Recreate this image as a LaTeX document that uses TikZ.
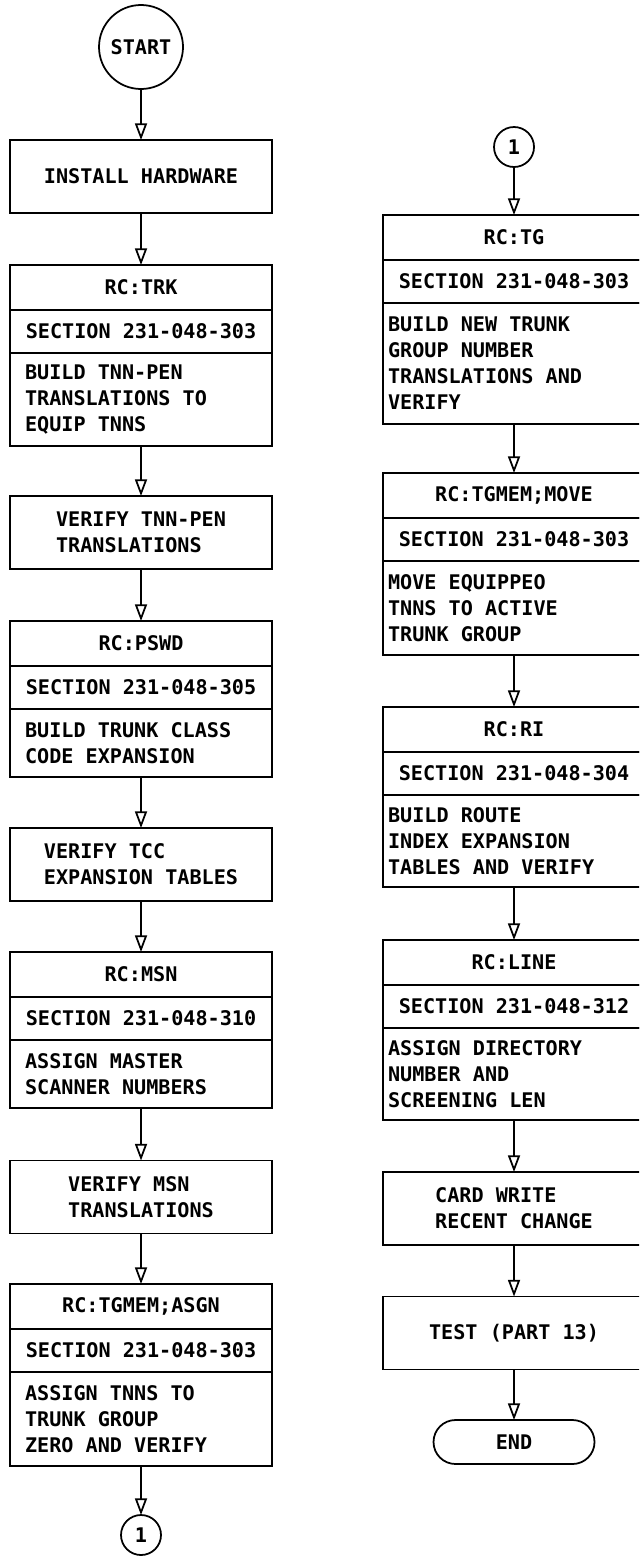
\documentclass[tikz,border=0pt]{standalone}
\usepackage{fontspec}
\setmonofont{DejaVu Sans Mono}
\usetikzlibrary{arrows.meta,positioning}

\tikzset{
  every node/.style={font=\ttfamily\bfseries\fontsize{17.2}{22.2}\selectfont},
  box/.style={draw, line width=1.5pt, outer sep=0pt, inner sep=0pt, minimum width=7.86cm},
  single/.style={box, minimum height=2.19cm, align=left},
  head/.style={box, minimum height=1.35cm},
  sect/.style={box, minimum height=1.29cm},
  body/.style={box, minimum height=#1, align=left, inner xsep=0.45cm, text width=6.96cm,
    execute at begin node={\spaceskip=0.602em\relax}},
  wide/.style={inner xsep=0.15cm, text width=7.56cm},
  conn/.style={draw, circle, line width=1.5pt, inner sep=0pt, outer sep=0pt, minimum size=#1},
  flow/.style={line width=1.5pt, -{Triangle[open, length=0.5cm, width=0.36cm]}}
}

\begin{document}
\begin{tikzpicture}[x=0.03cm, y=-0.03cm]
\clip (0,0) rectangle (639,1556);

% LEFT column
\begin{scope}[xshift=4.23cm]
  \node[conn=2.52cm] (start) at (0,47) {START};
  \node[single] (install) at (0,176.5) {INSTALL HARDWARE};
  \node[single] (vtnn) at (0,532.5) {VERIFY TNN-PEN\\TRANSLATIONS};
  \node[single] (vtcc) at (0,864.5) {VERIFY TCC\\EXPANSION TABLES};
  \node[single] (vmsn) at (0,1197) {VERIFY MSN\\TRANSLATIONS};
  % recent change boxes: command / section / task
  \foreach \n/\y/\h/\s/\b/\bh in {
      trk/287.5/RC:TRK/303/{BUILD TNN-PEN\\TRANSLATIONS TO\\EQUIP TNNS}/2.79cm,
      pswd/643.5/RC:PSWD/305/{BUILD TRUNK CLASS\\CODE EXPANSION}/2.04cm,
      msn/974.5/RC:MSN/310/{ASSIGN MASTER\\SCANNER NUMBERS}/2.04cm,
      asgn/1306.5/RC:TGMEM;ASGN/303/{ASSIGN TNNS TO\\TRUNK GROUP\\ZERO AND VERIFY}/2.82cm}{
    \node[head] (\n-h) at (0,\y) {\h};
    \node[sect, below=0pt of \n-h] (\n-s) {SECTION 231-048-\s};
    \node[body=\bh, below=0pt of \n-s] (\n-b) {\b};
  }
  \node[conn=1.2cm] (off1) at (0,1535) {1};
\end{scope}

% RIGHT column (boxes run off the right edge)
\begin{scope}[xshift=15.42cm]
  \node[conn=1.2cm] (on1) at (0,147) {1};
  \foreach \n/\y/\h/\s/\b/\bh in {
      tg/237.5/RC:TG/303/{BUILD NEW TRUNK\\GROUP NUMBER\\TRANSLATIONS AND\\VERIFY}/3.63cm,
      move/495.5/RC:TGMEM;MOVE/303/{MOVE EQUIPPEO\\TNNS TO ACTIVE\\TRUNK GROUP}/2.82cm,
      ri/729.5/RC:RI/304/{BUILD ROUTE\\INDEX EXPANSION\\TABLES AND VERIFY}/2.76cm,
      rcline/962.5/RC:LINE/312/{ASSIGN DIRECTORY\\NUMBER AND\\SCREENING LEN}/2.76cm}{
    \node[head] (\n-h) at (0,\y) {\h};
    \node[sect, below=0pt of \n-h] (\n-s) {SECTION 231-048-\s};
    \node[body=\bh, wide, below=0pt of \n-s] (\n-b) {\b};
  }
  \node[single] (card) at (0,1208.5) {CARD WRITE\\RECENT CHANGE};
  \node[single] (test) at (0,1333) {TEST (PART 13)};
  \node[draw, line width=1.5pt, outer sep=0pt, rounded corners=0.66cm,
        minimum width=4.83cm, minimum height=1.32cm] (stop) at (0,1442) {END};
\end{scope}

% flow lines
\foreach \a/\b in {start/install, install/trk-h, trk-b/vtnn, vtnn/pswd-h,
    pswd-b/vtcc, vtcc/msn-h, msn-b/vmsn, vmsn/asgn-h, asgn-b/off1,
    on1/tg-h, tg-b/move-h, move-b/ri-h, ri-b/rcline-h, rcline-b/card,
    card/test, test/stop}
  \draw[flow] (\a.south) -- (\b.north);

\end{tikzpicture}
\end{document}
